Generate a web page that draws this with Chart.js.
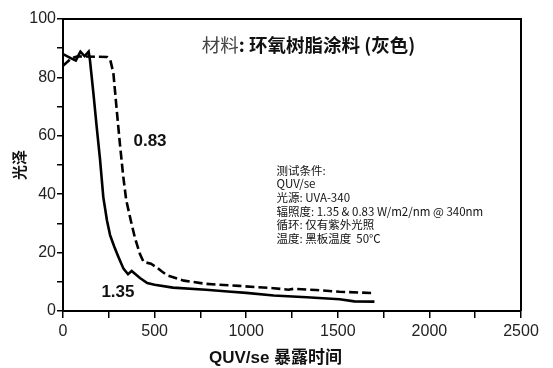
<!DOCTYPE html>
<html>
<head>
<meta charset="utf-8">
<script src="https://cdn.jsdelivr.net/npm/chart.js@4/dist/chart.umd.min.js"></script>
<style>
  html, body { margin: 0; padding: 0; background: #fff; }
  #wrap { width: 553px; height: 368px; }
</style>
</head>
<body>
<div id="wrap"><canvas id="c" width="553" height="368"></canvas></div>
<script>
// Exposure hours and gloss retention for the two irradiance levels
const hours135 = [0, 45, 70, 95, 118, 140, 147, 166, 184, 202, 220, 240, 257, 280, 302, 330, 355, 375, 420, 460, 500, 600, 780, 900, 1000, 1150, 1330, 1510, 1590, 1700];
const gloss135 = [88, 86.5, 85.8, 88.8, 87.3, 88.8, 86, 74.5, 63, 52, 39, 31, 26, 22, 18.6, 14.5, 12.6, 13.7, 11.3, 9.6, 9.0, 8.0, 7.3, 6.7, 6.2, 5.3, 4.7, 4.0, 3.3, 3.2];

const hours083 = [0, 45, 80, 240, 258, 275, 293, 311, 329, 345, 370, 393, 420, 440, 480, 510, 540, 570, 660, 780, 960, 1150, 1230, 1260, 1380, 1510, 1700];
const gloss083 = [84, 86.5, 87.2, 87, 86, 81.5, 69, 57, 46, 38, 31, 25, 19.5, 16.8, 16.2, 15, 13.5, 12.2, 10.4, 9.3, 8.6, 7.8, 7.3, 7.6, 7.2, 6.6, 6.1];

const seriesNames = ['1.35', '0.83'];
const xMax = 2500, xStep = 250, xLabelStep = 500;
const yMax = 100, yStep = 10, yLabelStep = 20;

const titleMain = '材料';
const titleRest = ': 环氧树脂涂料 (灰色)';
const xTitle = 'QUV/se 暴露时间';
const yTitle = '光泽';
const conditions = [
  '测试条件:',
  'QUV/se',
  '光源: UVA-340',
  '辐照度: 1.35 & 0.83 W/m2/nm @ 340nm',
  '循环: 仅有紫外光照',
  '温度: 黑板温度  50°C'
];

const FONT = "'Liberation Sans', 'Noto Sans CJK SC', Arial, sans-serif";
const CJK = "'Noto Sans CJK SC', 'Liberation Sans', sans-serif";

function pts(xs, ys) { return xs.map((x, i) => ({ x: x, y: ys[i] })); }

// frame, axis caption and in-plot annotations
const decor = {
  id: 'decor',
  afterDraw(chart) {
    const { ctx, chartArea: a, scales: { x, y } } = chart;
    ctx.save();
    ctx.strokeStyle = '#000';
    ctx.lineWidth = 2;
    ctx.beginPath();
    ctx.moveTo(a.left, a.top);
    ctx.lineTo(a.right, a.top);
    ctx.lineTo(a.right, a.bottom);
    ctx.stroke();

    // heading
    ctx.textBaseline = 'middle';
    ctx.font = '18.5px ' + CJK;
    const w1 = ctx.measureText(titleMain).width;
    ctx.font = 'bold 18.5px ' + CJK;
    const w2 = ctx.measureText(titleRest).width;
    const cx = x.getPixelForValue(1340);
    const ty = y.getPixelForValue(91);
    let tx = cx - (w1 + w2) / 2;
    ctx.textAlign = 'left';
    ctx.fillStyle = '#444';
    ctx.font = '18.5px ' + CJK;
    ctx.fillText(titleMain, tx, ty);
    ctx.fillStyle = '#111';
    ctx.font = 'bold 18.5px ' + CJK;
    ctx.fillText(titleRest, tx + w1, ty);

    // x axis caption
    ctx.font = 'bold 17px ' + FONT;
    ctx.textAlign = 'center';
    ctx.fillText(xTitle, x.getPixelForValue(1160), a.bottom + 47);

    // series labels
    ctx.font = 'bold 17px ' + FONT;
    ctx.fillText(seriesNames[1], x.getPixelForValue(475), y.getPixelForValue(58));
    ctx.fillText(seriesNames[0], x.getPixelForValue(300), y.getPixelForValue(6.3));

    // test conditions
    ctx.font = '11.5px ' + CJK;
    ctx.textAlign = 'left';
    const lx = x.getPixelForValue(1165);
    const ly = y.getPixelForValue(48.2);
    conditions.forEach((t, i) => ctx.fillText(t, lx, ly + i * 13.7));
    ctx.restore();
  }
};

new Chart(document.getElementById('c'), {
  type: 'line',
  data: {
    datasets: [
      {
        label: seriesNames[0],
        data: pts(hours135, gloss135),
        borderColor: '#000',
        borderWidth: 2.6,
        pointRadius: 0,
        tension: 0,
        fill: false
      },
      {
        label: seriesNames[1],
        data: pts(hours083, gloss083),
        borderColor: '#000',
        borderWidth: 2.6,
        borderDash: [9, 4],
        pointRadius: 0,
        tension: 0,
        fill: false
      }
    ]
  },
  options: {
    responsive: false,
    animation: false,
    events: [],
    layout: { padding: { top: 19, right: 32, left: 0, bottom: 0 } },
    plugins: { legend: { display: false }, tooltip: { enabled: false } },
    scales: {
      x: {
        type: 'linear',
        min: 0, max: xMax,
        afterFit(s) { s.height = 57; },
        border: { display: true, color: '#000', width: 2 },
        grid: { display: true, drawOnChartArea: false, drawTicks: true, tickLength: 7, color: '#000', lineWidth: 1.5 },
        ticks: {
          stepSize: xStep, autoSkip: false, maxRotation: 0, padding: 4,
          color: '#222', font: { family: FONT, size: 16 },
          callback: v => (v % xLabelStep === 0 ? v : '')
        }
      },
      y: {
        min: 0, max: yMax,
        afterFit(s) { s.width = 63; },
        border: { display: true, color: '#000', width: 2 },
        grid: { display: true, drawOnChartArea: false, drawTicks: true, tickLength: 6, color: '#000', lineWidth: 1.5 },
        ticks: {
          stepSize: yStep, autoSkip: false, padding: 1,
          color: '#222', font: { family: FONT, size: 16 },
          callback: v => (v % yLabelStep === 0 ? v : '')
        },
        title: { display: true, text: yTitle, color: '#111', font: { family: FONT, size: 15, weight: 'bold' }, padding: { top: 12, bottom: 0 } }
      }
    }
  },
  plugins: [decor]
});
</script>
</body>
</html>
